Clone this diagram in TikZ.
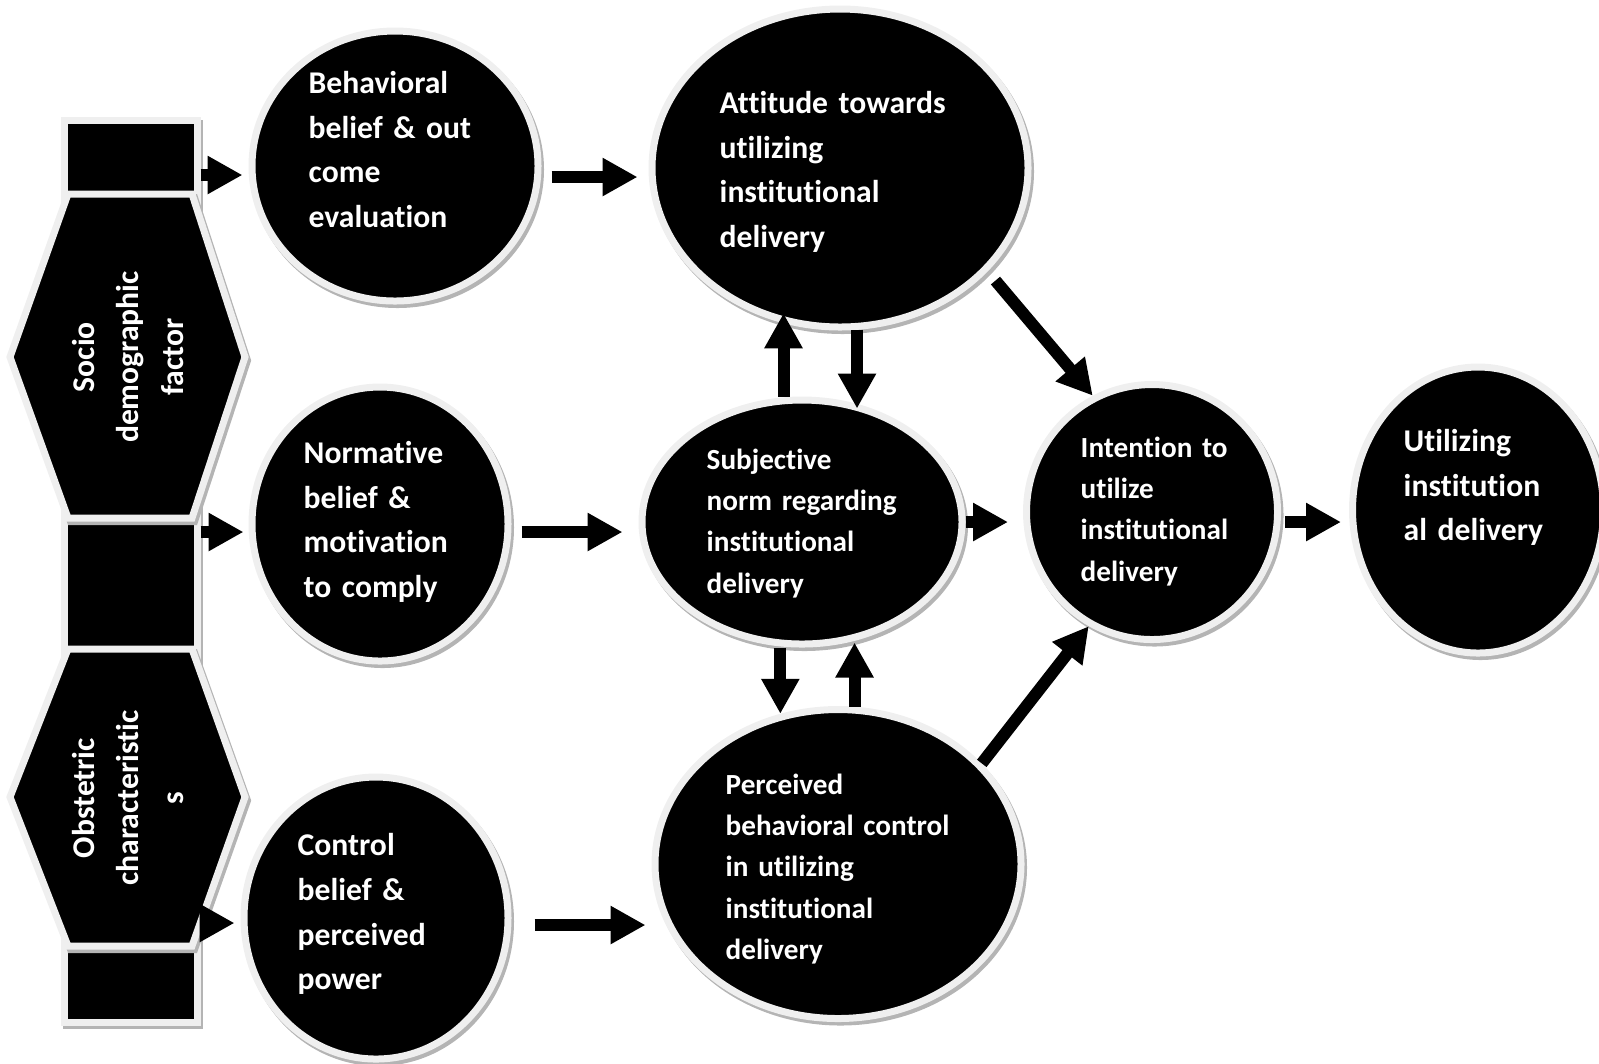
\documentclass[tikz,border=0pt]{standalone}
\usepackage{fontspec}
\setmainfont{Carlito}[Ligatures=NoCommon]
\usetikzlibrary{arrows.meta,shapes.geometric,shadows,calc}
\definecolor{ringgray}{HTML}{EFEFEF}
\definecolor{shadegray}{HTML}{B4B4B4}

\begin{document}
\begin{tikzpicture}[x=0.1mm,y=-0.1mm,
    rim/.style={fill=black,draw=ringgray,line width=0.7mm,
        drop shadow={shadow xshift=0.25mm,shadow yshift=-0.35mm,fill=shadegray,draw=shadegray,line width=0.7mm,opacity=1}},
    bubble/.style={rim,ellipse,inner sep=0pt},
    bigtxt/.style={text=white,font=\fontsize{9}{12.8}\selectfont\bfseries,align=left,text width=25mm,inner sep=0pt,anchor=base west},
    smalltxt/.style={bigtxt,font=\fontsize{8.3}{11.8}\selectfont\bfseries},
    hextxt/.style={text=white,font=\fontsize{9}{12.8}\selectfont\bfseries,align=center,inner sep=0pt,rotate=90},
    blk/.style={line width=1.2mm,-{Triangle[width=3.6mm,length=3.5mm]}}]
    \useasboundingbox (0,0) rectangle (1599,1063);

    % left column with the two hexagons
    \node[rim,rectangle,inner sep=0pt,minimum width=13.3mm,minimum height=90.2mm] (col) at (130.5,571) {};
    \draw[rim] (68,194) -- (192,194) -- (245,357) -- (192,518) -- (68,518) -- (10,357) -- cycle;
    \draw[rim] (68,649) -- (192,649) -- (245,797) -- (192,946) -- (68,946) -- (10,797) -- cycle;
    \node[hextxt] (socioT) at (128,357) {Socio\\demographic\\factor};
    \node[hextxt] (obstT) at (128,798) {Obstetric\\characteristic\\s};

    % ellipses
    \node[bubble,minimum width=28.6mm,minimum height=27mm] (beh) at (395,166) {};
    \node[bubble,minimum width=37.6mm,minimum height=31.8mm] (att) at (840,168) {};
    \node[bubble,minimum width=25.6mm,minimum height=27.4mm] (norm) at (380,524) {};
    \node[bubble,minimum width=32mm,minimum height=24.4mm] (subj) at (802,522) {};
    \node[bubble,minimum width=25.1mm,minimum height=25.5mm] (inten) at (1152,512) {};
    \node[bubble,minimum width=25.1mm,minimum height=28.6mm] (util) at (1478,510) {};
    \node[bubble,minimum width=26.4mm,minimum height=28.2mm] (ctrl) at (376,918) {};
    \node[bubble,minimum width=36.6mm,minimum height=30.9mm] (perc) at (838,864) {};

    % arrows
    \draw[blk] ($(col.east |- beh.west)+(0,9)$) -- ($(beh.west)+(-6,9)$);
    \draw[blk] ($(beh.east |- att.west)+(10,9)$) -- ($(att.west)+(-11,9)$);
    \draw[blk] ($(col.east |- norm.west)+(0,8)$) -- ($(norm.west)+(-5,8)$);
    \draw[blk] ($(norm.east |- subj.west)+(10,10)$) -- ($(subj.west)+(-16,10)$);
    \draw[blk] ($(col.east |- ctrl.west)+(5,5)$) -- ($(ctrl.west)+(-6,5)$);
    \draw[blk] ($(ctrl.east)+(23,7)$) -- ($(ctrl.east -| perc.west)+(-6,7)$);
    \draw[blk] (subj.east) -- ($(subj.east -| inten.west)+(-15,0)$);
    \draw[blk] ($(inten.east)+(4,10)$) -- ($(inten.east -| util.west)+(-8,10)$);
    \draw[blk,shorten >=-1mm] (subj.north -| att.250) -- (att.250);
    \draw[blk] (att.276) -- ($(att.276 |- subj.north)+(0,12)$);
    \draw[blk] (perc.111 |- subj.south) -- (perc.111);
    \draw[blk,shorten >=-0.5mm] (perc.84) -- (perc.84 |- subj.south);
    \draw[blk,shorten <=1.2mm] (att.325) -- (inten.117);
    \draw[blk] (perc.35) -- (inten.241);

    % texts
    \node[bigtxt] (behT) at (308,93) {Behavioral\\belief \& out\\come\\evaluation};
    \node[bigtxt] (attT) at (719,113) {Attitude towards\\utilizing\\institutional\\delivery};
    \node[bigtxt] (normT) at (303,463) {Normative\\belief \&\\motivation\\to comply};
    \node[smalltxt] (subjT) at (706,469) {Subjective\\norm regarding\\institutional\\delivery};
    \node[smalltxt] (intenT) at (1080,457) {Intention to\\utilize\\institutional\\delivery};
    \node[bigtxt] (utilT) at (1403,451) {Utilizing\\institution\\al delivery};
    \node[bigtxt] (ctrlT) at (297,855) {Control\\belief \&\\perceived\\power};
    \node[smalltxt] (percT) at (725,794) {Perceived\\behavioral control\\in utilizing\\institutional\\delivery};
\end{tikzpicture}
\end{document}
